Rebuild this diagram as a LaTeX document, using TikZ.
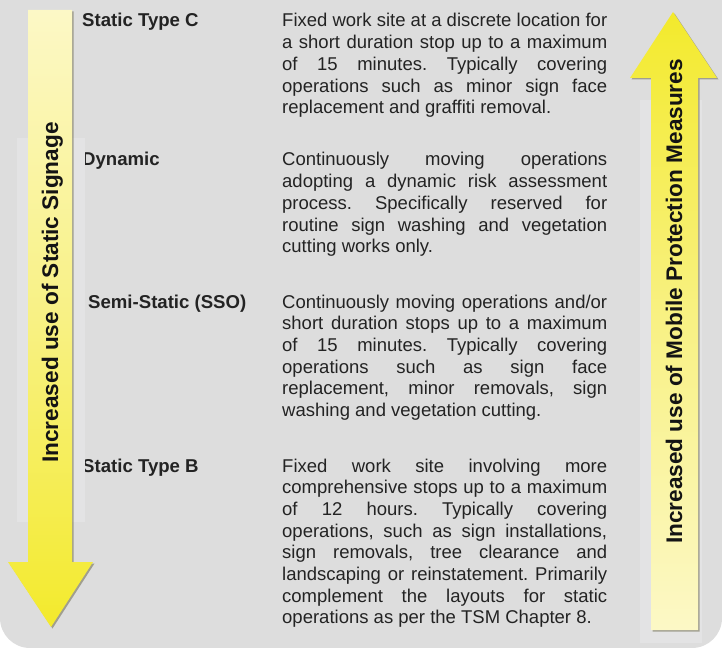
\documentclass[tikz,border=0pt]{standalone}
\usepackage{fontspec}
\setmainfont{Liberation Sans}
\definecolor{panel}{HTML}{DDDDDD}
\definecolor{glow}{HTML}{E3E3E4}
\definecolor{ink}{HTML}{232323}
\definecolor{paleyel}{HTML}{FCF8C6}
\definecolor{midyel}{HTML}{F8F184}
\definecolor{deepyel}{HTML}{F3EA2C}
\definecolor{shadowc}{HTML}{6E6C50}
% justified paragraphs with one line per forced break
\newcommand\descsetup{\frenchspacing\spaceskip=0.278em plus 2em minus 0.12em\relax
  \hyphenpenalty=10000\exhyphenpenalty=10000\tolerance=10000\hbadness=10000}
\begin{document}
\begin{tikzpicture}[x=1bp,y=1bp,
  tag/.style={anchor=base west, inner sep=0pt, text=ink,
    font=\fontsize{18.6bp}{21.7bp}\selectfont\bfseries},
  desc/.style={anchor=base west, inner sep=0pt, text=ink, text width=325bp,
    align=justify, font=\fontsize{18.5bp}{21.7bp}\selectfont\descsetup},
  axislabel/.style={anchor=base, rotate=90, inner sep=0pt, text=black!92,
    font=\fontsize{22.6bp}{26bp}\selectfont\bfseries},
  dropshadow/.style={fill=shadowc, fill opacity=0.55}]
\useasboundingbox (0,0) rectangle (722,-648);
\clip (0,0) rectangle (722,-648);

% panel
\fill[panel, rounded corners=30bp] (0,40) rectangle (722,-648);

% categories
\node[tag] (lc) at (82,-27) {Static Type C};
\node[desc] (dc) at (282,-27) {Fixed work site at a discrete location for\linebreak
a short duration stop up to a maximum\linebreak
of 15 minutes. Typically covering\linebreak
operations such as minor sign face\linebreak
replacement and graffiti removal.};

\node[tag] (ld) at (82,-166) {Dynamic};
\node[desc] (dd) at (282,-166) {Continuously moving operations\linebreak
adopting a dynamic risk assessment\linebreak
process. Specifically reserved for\linebreak
routine sign washing and vegetation\linebreak
cutting works only.};

\node[tag] (ls) at (88,-308) {Semi-Static (SSO)};
\node[desc] (ds) at (282,-308) {Continuously moving operations and/or\linebreak
short duration stops up to a maximum\linebreak
of 15 minutes. Typically covering\linebreak
operations such as sign face\linebreak
replacement, minor removals, sign\linebreak
washing and vegetation cutting.};

\node[tag] (lb) at (82,-472) {Static Type B};
\node[desc] (db) at (282,-472) {Fixed work site involving more\linebreak
comprehensive stops up to a maximum\linebreak
of 12 hours. Typically covering\linebreak
operations, such as sign installations,\linebreak
sign removals, tree clearance and\linebreak
landscaping or reinstatement. Primarily\linebreak
complement the layouts for static\linebreak
operations as per the TSM Chapter 8.};

% light bands behind the arrow shafts
\fill[glow] (17,-138) rectangle (85,-522);
\fill[glow] (640,-100) rectangle (702,-643);

% left arrow (pointing down)
\def\leftarrowpath{(28,-10) -- (72,-10) -- (72,-562) -- (93,-562) -- (51,-627) -- (8,-562) -- (28,-562) -- cycle}
\fill[dropshadow, shift={(1.5,-1.5)}] \leftarrowpath;
\shade[top color=paleyel, bottom color=deepyel, middle color=midyel] \leftarrowpath;

% right arrow (pointing up)
\def\rightarrowpath{(651,-630) -- (698,-630) -- (698,-78) -- (717,-78) -- (673,-12) -- (630,-78) -- (651,-78) -- cycle}
\fill[dropshadow, shift={(1.5,-1.5)}] \rightarrowpath;
\shade[top color=deepyel, bottom color=paleyel, middle color=midyel] \rightarrowpath;

% arrow captions
\node[axislabel] (al) at (58,-292.5) {Increased use of Static Signage};
\node[axislabel] (ar) at (682,-301.5) {Increased use of Mobile Protection Measures};
\end{tikzpicture}
\end{document}
